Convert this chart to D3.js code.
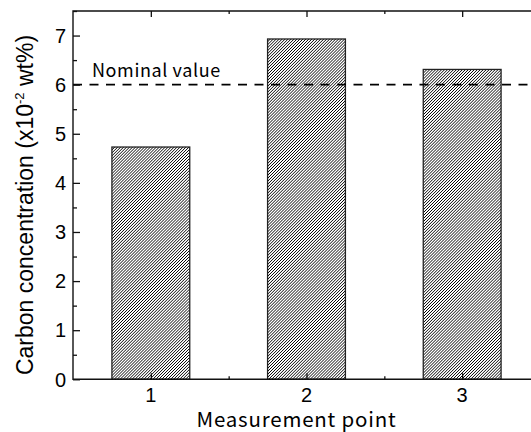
<!DOCTYPE html>
<html>
<head>
<meta charset="utf-8">
<script src="https://cdn.jsdelivr.net/npm/d3@7"></script>
<style>
html,body{margin:0;padding:0;background:#fff;}
svg{display:block;}
</style>
</head>
<body>
<svg id="chart" width="531" height="432"></svg>
<script>
const categories = [1, 2, 3];
const values = [4.73, 6.93, 6.31];
const nominalValue = 6;
const nominalLabel = "Nominal value";
const yTicks = [0, 1, 2, 3, 4, 5, 6, 7];
const yMinorTicks = [0.5, 1.5, 2.5, 3.5, 4.5, 5.5, 6.5, 7.5];
const xMinorTicks = [1.5, 2.5];
const xTitle = "Measurement point";

const svg = d3.select("#chart");
const mLeft = 73, mTop = 11, mBottom = 379.3, mRight = 540;

const x = d3.scaleLinear().domain([0.5, 3.5]).range([mLeft, mRight]);
const y = d3.scaleLinear().domain([0, 7.5]).range([mBottom, mTop]);

const defs = svg.append("defs");
const pat = defs.append("pattern")
  .attr("id", "hatch").attr("patternUnits", "userSpaceOnUse")
  .attr("width", 2.1).attr("height", 2.1)
  .attr("patternTransform", "rotate(45)");
pat.append("rect").attr("width", 2.1).attr("height", 2.1).attr("fill", "#fff");
pat.append("line").attr("x1", 0).attr("y1", 0).attr("x2", 0).attr("y2", 2.1)
  .attr("stroke", "#000").attr("stroke-width", 1.4);

const barW = 0.5;
svg.append("g").selectAll("rect").data(categories).join("rect")
  .attr("x", (d) => x(d - barW / 2))
  .attr("y", (d, i) => y(values[i]))
  .attr("width", (d) => x(d + barW / 2) - x(d - barW / 2))
  .attr("height", (d, i) => y(0) - y(values[i]))
  .attr("fill", "url(#hatch)")
  .attr("stroke", "#222").attr("stroke-width", 1.3);

// nominal line
svg.append("line")
  .attr("x1", x(0.5)).attr("x2", x(3.44))
  .attr("y1", y(nominalValue)).attr("y2", y(nominalValue))
  .attr("stroke", "#000").attr("stroke-width", 1.6)
  .attr("stroke-dasharray", "9,7.5");

svg.append("text")
  .attr("x", 92).attr("y", y(nominalValue) - 8)
  .attr("font-family", "'Noto Sans CJK JP', sans-serif")
  .attr("font-size", 18).attr("letter-spacing", 0.6).attr("fill", "#000")
  .text(nominalLabel);

const axisStyle = (g) => {
  g.select(".domain").remove();
  g.selectAll("line").attr("stroke", "#111").attr("stroke-width", 1.3);
};

// left
svg.append("g").attr("transform", `translate(${mLeft},0)`)
  .call(d3.axisRight(y).tickValues(yTicks).tickSize(7).tickFormat(""))
  .call(axisStyle);
svg.append("g").attr("transform", `translate(${mLeft},0)`)
  .call(d3.axisRight(y).tickValues(yMinorTicks).tickSize(4).tickFormat(""))
  .call(axisStyle);
svg.append("g").selectAll("text").data(yTicks).join("text")
  .attr("x", 66).attr("y", (d) => y(d)).attr("dy", "0.36em")
  .attr("text-anchor", "end")
  .attr("font-family", "'Liberation Sans', Arial, sans-serif").attr("font-size", 20)
  .attr("fill", "#000").text((d) => d);

// bottom
svg.append("g").attr("transform", `translate(0,${mBottom})`)
  .call(d3.axisTop(x).tickValues(categories).tickSize(6).tickFormat(""))
  .call(axisStyle);
svg.append("g").attr("transform", `translate(0,${mBottom})`)
  .call(d3.axisTop(x).tickValues(xMinorTicks).tickSize(3).tickFormat(""))
  .call(axisStyle);
svg.append("g").selectAll("text").data(categories).join("text")
  .attr("x", (d) => x(d)).attr("y", 402)
  .attr("text-anchor", "middle")
  .attr("font-family", "'Liberation Sans', Arial, sans-serif").attr("font-size", 20)
  .attr("fill", "#000").text((d) => d);

// top
svg.append("g").attr("transform", `translate(0,${mTop})`)
  .call(d3.axisBottom(x).tickValues(categories).tickSize(6).tickFormat(""))
  .call(axisStyle);
svg.append("g").attr("transform", `translate(0,${mTop})`)
  .call(d3.axisBottom(x).tickValues(xMinorTicks).tickSize(3).tickFormat(""))
  .call(axisStyle);

// frame
svg.append("path")
  .attr("d", `M${mRight},${mTop}H${mLeft}V${mBottom}H${mRight}`)
  .attr("fill", "none").attr("stroke", "#111").attr("stroke-width", 1.4);

// titles
svg.append("text")
  .attr("x", x(2) - 10).attr("y", 427)
  .attr("text-anchor", "middle")
  .attr("font-family", "'Noto Sans CJK JP', sans-serif")
  .attr("font-size", 20.5).attr("letter-spacing", 0.8).attr("fill", "#000")
  .text(xTitle);

const yt = svg.append("text")
  .attr("transform", `translate(33,205) rotate(-90)`)
  .attr("text-anchor", "middle")
  .attr("font-family", "'Liberation Sans', Arial, sans-serif")
  .attr("font-size", 23).attr("fill", "#000");
yt.append("tspan").text("Carbon concentration (x10");
yt.append("tspan").attr("font-size", 13).attr("dy", -9).text("-2");
yt.append("tspan").attr("dy", 9).text(" wt%)");
</script>
</body>
</html>
